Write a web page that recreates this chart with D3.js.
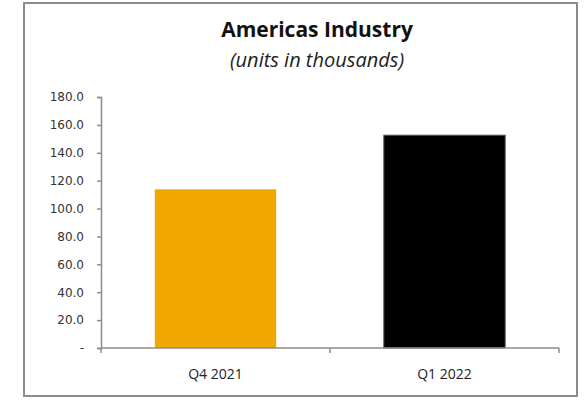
<!DOCTYPE html>
<html>
<head>
<meta charset="utf-8">
<script src="https://cdn.jsdelivr.net/npm/d3@7"></script>
<style>
  body { margin: 0; background: #fff; }
  text { font-family: "Open Sans", "Noto Sans", sans-serif; }
</style>
</head>
<body>
<div id="chart"></div>
<script>
// chart data
const quarters = ['Q4 2021', 'Q1 2022'];
const units = [113.8, 152.6];
const barColors = ['#f0a800', '#000000'];
const yTicks = [0, 20, 40, 60, 80, 100, 120, 140, 160, 180];

const width = 585, height = 400;
const margin = { top: 97, right: 26, bottom: 52, left: 101 };

const svg = d3.select('#chart').append('svg')
    .attr('width', width)
    .attr('height', height);

// outer frame
svg.append('rect')
    .attr('x', 24).attr('y', 3)
    .attr('width', 553).attr('height', 393)
    .attr('fill', '#fff')
    .attr('stroke', '#8c8c8c')
    .attr('stroke-width', 2);

svg.append('text')
    .attr('x', 317).attr('y', 37)
    .attr('text-anchor', 'middle')
    .attr('font-size', 21)
    .attr('font-weight', 'bold')
    .attr('fill', '#111')
    .text('Americas Industry');

svg.append('text')
    .attr('x', 317).attr('y', 67)
    .attr('text-anchor', 'middle')
    .attr('font-size', 20)
    .attr('font-style', 'italic')
    .attr('fill', '#222')
    .text('(units in thousands)');

const x = d3.scaleBand().domain(quarters)
    .range([margin.left, width - margin.right])
    .paddingInner(0.47).paddingOuter(0.235);
const y = d3.scaleLinear().domain([0, 180])
    .range([height - margin.bottom, margin.top]);

svg.selectAll('.bar')
    .data(quarters)
    .enter().append('rect')
    .attr('class', 'bar')
    .attr('x', d => x(d))
    .attr('y', (d, i) => y(units[i]))
    .attr('width', x.bandwidth())
    .attr('height', (d, i) => y(0) - y(units[i]))
    .attr('fill', (d, i) => barColors[i])
    .attr('stroke', (d, i) => i === 1 ? '#555' : 'none')
    .attr('stroke-width', 1);

// y axis
const yAxis = svg.append('g')
    .attr('transform', `translate(${margin.left},0)`)
    .call(d3.axisLeft(y).tickValues(yTicks).tickSize(4).tickPadding(13)
        .tickFormat(d => d === 0 ? '-' : d3.format('.1f')(d)));
yAxis.select('.domain').attr('stroke', '#8c8c8c').attr('stroke-width', 1.5);
yAxis.selectAll('.tick line').attr('stroke', '#8c8c8c').attr('stroke-width', 1.5);
yAxis.selectAll('.tick text').attr('font-size', 12).attr('fill', '#333')
    .style('font-family', '"DejaVu Sans", sans-serif');

// x axis with ticks at category boundaries
const xStep = (width - margin.right - margin.left) / quarters.length;
const boundaries = d3.range(quarters.length + 1).map(i => margin.left + i * xStep);
const xAxis = svg.append('g')
    .attr('transform', `translate(0,${y(0)})`);
xAxis.append('line')
    .attr('x1', margin.left).attr('x2', width - margin.right)
    .attr('stroke', '#8c8c8c').attr('stroke-width', 1.5);
xAxis.selectAll('.xtick')
    .data(boundaries)
    .enter().append('line')
    .attr('x1', d => d).attr('x2', d => d)
    .attr('y1', 0).attr('y2', 5)
    .attr('stroke', '#8c8c8c').attr('stroke-width', 1.5);
xAxis.selectAll('.xlabel')
    .data(quarters)
    .enter().append('text')
    .attr('x', d => x(d) + x.bandwidth() / 2)
    .attr('y', 31)
    .attr('text-anchor', 'middle')
    .attr('font-size', 14)
    .attr('fill', '#222')
    .text(d => d);
</script>
</body>
</html>
